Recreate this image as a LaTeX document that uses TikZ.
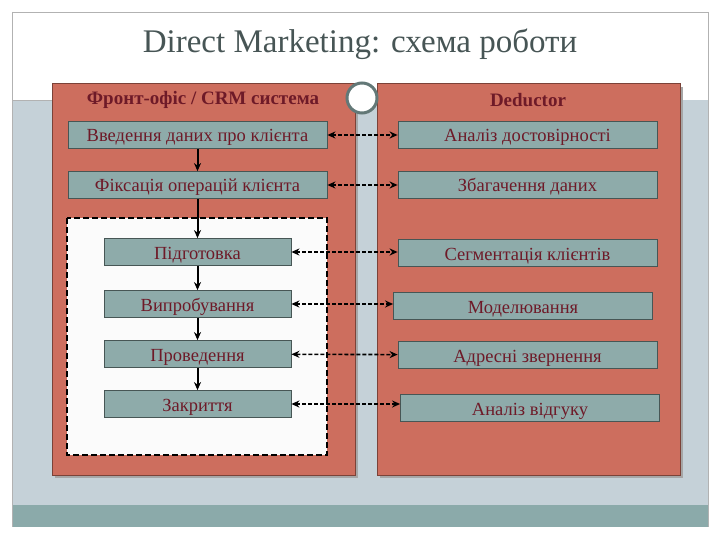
\documentclass[tikz,border=0pt]{standalone}
\usepackage{fontspec}
\setmainfont{Liberation Serif}
\usetikzlibrary{arrows.meta}
\definecolor{panel}{HTML}{CD6E5E}
\definecolor{boxc}{HTML}{8EABAA}
\definecolor{bg}{HTML}{C5D1D8}
\definecolor{band}{HTML}{8BAAAA}
\definecolor{txt}{HTML}{6E1A28}
\tikzset{
 pnl/.style={fill=panel,draw=panel!60!black,line width=1pt},
 bx/.style={fill=boxc,draw=boxc!50!black,line width=0.8pt,minimum height=27pt,text=txt,font=\fontsize{18.5}{20}\selectfont,inner sep=0pt,text height=14pt,text depth=0pt},
 flow/.style={-{Stealth[length=8pt,width=7pt]},line width=2pt},
 link/.style={{Stealth[length=8pt,width=7pt]}-{Stealth[length=8pt,width=7pt]},dash pattern=on 4pt off 2pt,line width=1.6pt},
 hdr/.style={text=txt,font=\bfseries\fontsize{19}{21}\selectfont}
}
\begin{document}
\begin{tikzpicture}[x=1pt,y=-1pt]
\useasboundingbox (0,0) rectangle (720,540);
\fill[white] (0,0) rectangle (720,540);
\fill[bg] (12,100) rectangle (708,505);
\fill[band] (12,505) rectangle (708,527);
\draw[gray!60] (12,12) -- (12,527) (12,12) -- (708,12) -- (708,527);
\draw[gray!60] (12,100) -- (52,100);
\node[text=black!50!boxc,font=\fontsize{33}{36}\selectfont] (title) at (360,44) {Direct Marketing: схема роботи};
\fill[black!35] (55,87) rectangle (358,478);
\fill[black!35] (380,87) rectangle (683,478);
\draw[pnl] (52,84) rectangle (355,475);
\draw[pnl] (377,84) rectangle (680,475);
\draw[boxc!70!black,line width=3pt,fill=white] (362,98) circle (15);
\node[hdr] (h1) at (203,100) {Фронт-офіс / CRM система};
\node[hdr] (h2) at (528,100) {Deductor};
\draw[fill=white!97!gray,dash pattern=on 6pt off 3pt,line width=1.6pt] (67,218) rectangle (327,455);
\node[bx,minimum width=259pt] (a1) at (197.5,135) {Введення даних про клієнта};
\node[bx,minimum width=259pt] (a2) at (197.5,185) {Фіксація операцій клієнта};
\node[bx,minimum width=187pt] (a3) at (197.5,252) {Підготовка};
\node[bx,minimum width=187pt] (a4) at (197.5,304) {Випробування};
\node[bx,minimum width=187pt] (a5) at (197.5,354) {Проведення};
\node[bx,minimum width=187pt] (a6) at (197.5,404) {Закриття};
\node[bx,minimum width=259pt] (b1) at (527.5,135) {Аналіз достовірності};
\node[bx,minimum width=259pt] (b2) at (527.5,185) {Збагачення даних};
\node[bx,minimum width=259pt] (b3) at (527.5,253) {Сегментація клієнтів};
\node[bx,minimum width=259pt] (b4) at (523,306) {Моделювання};
\node[bx,minimum width=259pt] (b5) at (527.5,355) {Адресні звернення};
\node[bx,minimum width=259pt] (b6) at (530,408) {Аналіз відгуку};
\draw[flow] (a1) -- (a2);
\draw[flow] (a2) -- (a3);
\draw[flow] (a3) -- (a4);
\draw[flow] (a4) -- (a5);
\draw[flow] (a5) -- (a6);
\draw[link] (a1) -- (b1);
\draw[link] (a2) -- (b2);
\draw[link] (a3.east) -- (b3.west|-a3.east);
\draw[link] (a4.east) -- (b4.west|-a4.east);
\draw[link] (a5) -- (b5);
\draw[link] (a6.east) -- (b6.west|-a6.east);
\end{tikzpicture}
\end{document}
